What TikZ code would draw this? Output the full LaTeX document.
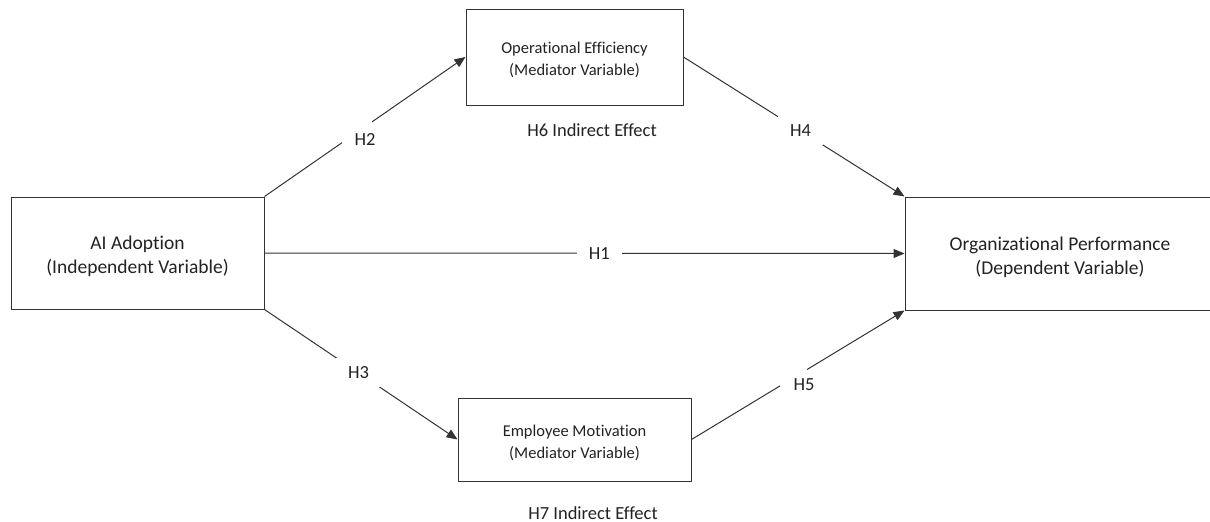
\documentclass[tikz,border=0pt]{standalone}
\usepackage{fontspec}
\setmainfont{Carlito}[Ligatures=NoCommon]
\usetikzlibrary{arrows.meta}
\definecolor{ln}{HTML}{333333}
\definecolor{tx}{HTML}{222222}
\newcommand{\bigtxt}{\fontsize{19.5pt}{24pt}\selectfont}
\newcommand{\smalltxt}{\fontsize{16.5pt}{22pt}\selectfont}
\newcommand{\lbltxt}{\fontsize{18.5pt}{22pt}\selectfont}
\newcommand{\topfix}[1]{\rule{0pt}{#1}}
\tikzset{
  box/.style={draw=ln, line width=1pt, fill=white, inner sep=0pt, align=center, text=tx},
  arr/.style={draw=ln, line width=1pt, -{Triangle[length=11pt,width=9pt]}},
  lbl/.style={fill=white, text=tx, font=\lbltxt, inner sep=0pt, minimum width=45pt, minimum height=29pt},
  txtonly/.style={text=tx, font=\lbltxt, inner sep=0pt},
  gapw/.style={fill=white, inner sep=0pt}
}
\begin{document}
\begin{tikzpicture}[x=1pt, y=-1pt]
\useasboundingbox (0,0) rectangle (1210,522);
\node[box, font=\bigtxt, minimum width=253pt, minimum height=112pt] (ai) at (137.5,253) {\topfix{21pt}AI Adoption\\(Independent Variable)};
\node[box, font=\smalltxt, minimum width=217pt, minimum height=96pt] (oe) at (574.5,57) {\topfix{17pt}Operational Efficiency\\(Mediator Variable)};
\node[box, font=\bigtxt, minimum width=310pt, minimum height=113pt] (op) at (1060,253.5) {\topfix{21pt}Organizational Performance\\(Dependent Variable)};
\node[box, font=\smalltxt, minimum width=233pt, minimum height=83pt] (em) at (574.5,439.5) {\topfix{19pt}Employee Motivation\\(Mediator Variable)};

\draw[arr] (ai.east) -- node[lbl, pos=0.523] (h1) {H1} (op.west);
\draw[arr] (ai.north east) -- node[gapw, pos=0.46, minimum width=30pt, minimum height=22pt] (g2) {} (oe.west);
\node[txtonly] (h2) at (365,139) {H2};
\draw[arr] (ai.south east) -- node[lbl, pos=0.487] (h3) {H3} (em.west);
\draw[arr] (oe.east) -- node[lbl, pos=0.53] (h4) {H4} (op.north west);
\draw[arr] (em.east) -- node[gapw, pos=0.479, minimum width=27pt, minimum height=20pt] (g5) {} (op.south west);
\node[txtonly] (h5) at (804,385) {H5};

\node[txtonly] (h6) at (592,130) {H6 Indirect Effect};
\node[txtonly] (h7) at (593,513) {H7 Indirect Effect};
\end{tikzpicture}
\end{document}
